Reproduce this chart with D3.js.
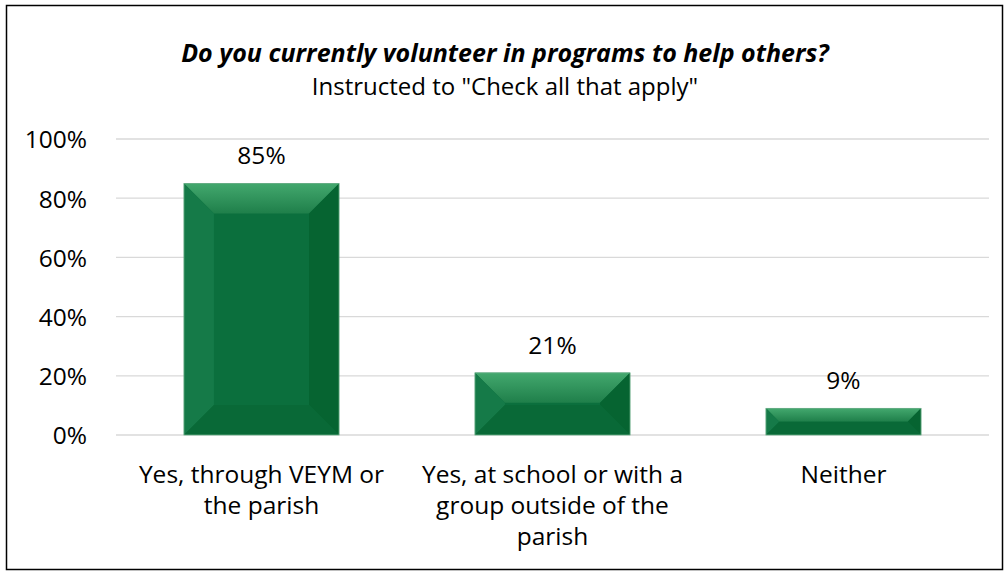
<!DOCTYPE html>
<html><head><meta charset="utf-8">
<script src="https://cdn.jsdelivr.net/npm/d3@7"></script>
<style>body{margin:0;background:#fff}svg{display:block}</style>
</head><body>
<svg id="c" width="1006" height="575"></svg>
<script>
const categories = ["Yes, through VEYM or the parish", "Yes, at school or with a group outside of the parish", "Neither"];
const categoryLines = [["Yes, through VEYM or", "the parish"], ["Yes, at school or with a", "group outside of the", "parish"], ["Neither"]];
const values = [0.85, 0.21, 0.09];
const valueLabels = ["85%", "21%", "9%"];
const yTicks = [0, 0.2, 0.4, 0.6, 0.8, 1.0];
const titleText = "Do you currently volunteer in programs to help others?";
const subtitleText = "Instructed to \"Check all that apply\"";

const FONT = "'Open Sans', sans-serif";
const FS = 24.5;
const svg = d3.select("#c");
svg.append("rect").attr("x", 6.5).attr("y", 5.5).attr("width", 996).attr("height", 564)
  .attr("fill", "#fff").attr("stroke", "#000").attr("stroke-width", 1.5);

const x = d3.scaleBand().domain(categories).range([116, 989]).paddingInner(0.467).paddingOuter(0.2335);
const y = d3.scaleLinear().domain([0, 1]).range([435, 139]);

svg.append("g").selectAll("line").data(yTicks).join("line")
  .attr("x1", 116).attr("x2", 989).attr("y1", d => y(d)).attr("y2", d => y(d))
  .attr("stroke", "#d9d9d9").attr("stroke-width", 1.3);

const yAxis = d3.axisLeft(y).tickValues(yTicks).tickFormat(d3.format(".0%")).tickSize(0).tickPadding(0);
const ya = svg.append("g").attr("transform", "translate(87,0)").call(yAxis);
ya.select(".domain").remove();
ya.selectAll("text").attr("font-family", FONT).attr("font-size", FS).attr("fill", "#000").attr("dy", "0.36em");

const defs = svg.append("defs");
const g1 = defs.append("linearGradient").attr("id", "topg").attr("x1", 0).attr("x2", 0).attr("y1", 0).attr("y2", 1);
g1.append("stop").attr("offset", 0).attr("stop-color", "#43a86e");
g1.append("stop").attr("offset", 1).attr("stop-color", "#1f7f4a");

const bars = svg.append("g").selectAll("g").data(categories).join("g");
bars.each(function(c, i) {
  const g = d3.select(this);
  const x0 = x(c), x1 = x(c) + x.bandwidth();
  const y0 = y(values[i]), y1 = y(0);
  const b = Math.min(30, (y1 - y0) / 2, (x1 - x0) / 2);
  const pts = a => a.map(p => p.join(",")).join(" ");
  g.append("rect").attr("x", x0).attr("y", y0).attr("width", x1 - x0).attr("height", y1 - y0).attr("fill", "#0b6f3d");
  g.append("polygon").attr("points", pts([[x0, y0], [x1, y0], [x1 - b, y0 + b], [x0 + b, y0 + b]])).attr("fill", "url(#topg)");
  g.append("polygon").attr("points", pts([[x0, y0], [x0 + b, y0 + b], [x0 + b, y1 - b], [x0, y1]])).attr("fill", "#157a48");
  g.append("polygon").attr("points", pts([[x1, y0], [x1, y1], [x1 - b, y1 - b], [x1 - b, y0 + b]])).attr("fill", "#066431");
  g.append("polygon").attr("points", pts([[x0, y1], [x0 + b, y1 - b], [x1 - b, y1 - b], [x1, y1]])).attr("fill", "#096937");
  g.append("rect").attr("x", x0).attr("y", y0).attr("width", x1 - x0).attr("height", y1 - y0)
    .attr("fill", "none").attr("stroke", "#6aae88").attr("stroke-width", 0.8);
  g.append("text").attr("x", (x0 + x1) / 2).attr("y", y0 - 19).attr("text-anchor", "middle")
    .attr("font-family", FONT).attr("font-size", FS).attr("fill", "#000").text(valueLabels[i]);
  const t = g.append("text").attr("text-anchor", "middle").attr("font-family", FONT).attr("font-size", FS).attr("fill", "#000");
  categoryLines[i].forEach((ln, k) => {
    t.append("tspan").attr("x", (x0 + x1) / 2).attr("y", 483 + k * 31).text(ln);
  });
});

svg.append("text").attr("x", 505).attr("y", 62).attr("text-anchor", "middle")
  .attr("font-family", FONT).attr("font-size", 25).attr("font-weight", "bold").attr("font-style", "italic")
  .attr("fill", "#000").text(titleText);
svg.append("text").attr("x", 505).attr("y", 95).attr("text-anchor", "middle")
  .attr("font-family", FONT).attr("font-size", 24).attr("fill", "#000").text(subtitleText);
</script>
</body></html>
